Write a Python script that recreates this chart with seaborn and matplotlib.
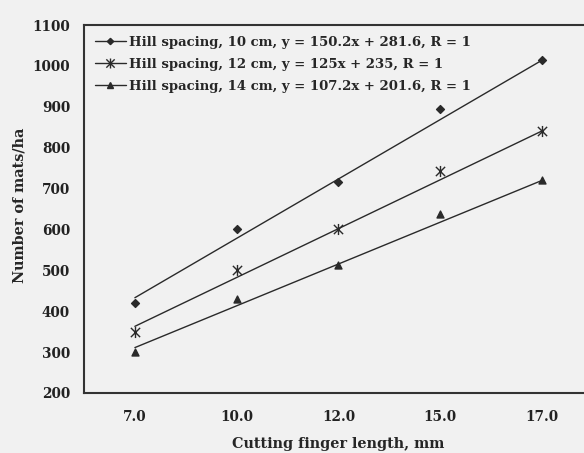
import numpy as np
import pandas as pd
import matplotlib
matplotlib.use("Agg")
import matplotlib.pyplot as plt
from matplotlib.path import Path
from matplotlib.lines import Line2D
import seaborn as sns

# ---- data ----
finger_lengths = ["7.0", "10.0", "12.0", "15.0", "17.0"]
series_names = [
    "Hill spacing, 10 cm, y = 150.2x + 281.6, R = 1",
    "Hill spacing, 12 cm, y = 125x + 235, R = 1",
    "Hill spacing, 14 cm, y = 107.2x + 201.6, R = 1",
]
mats_10cm = [420, 600, 715, 895, 1015]
mats_12cm = [350, 500, 600, 742, 840]
mats_14cm = [300, 430, 512, 637, 720]
# trend lines as drawn in the figure (value at 7.0 and at 17.0)
trend_at_first = [433, 363, 311]
trend_at_last = [1014, 841, 720]
y_ticks = [200, 300, 400, 500, 600, 700, 800, 900, 1000, 1100]

sns.set_style("white")
plt.rcParams["font.family"] = ["DejaVu Serif"]
plt.rcParams["font.weight"] = "bold"

bg = "#f1f1f1"
fig = plt.figure(figsize=(5.84, 4.53), dpi=100, facecolor=bg)
ax = fig.add_axes([0.1438, 0.1325, 0.8716, 0.8123])
ax.set_facecolor(bg)

idx = np.arange(1, len(finger_lengths) + 1)
rows = []
for name, vals in zip(series_names, [mats_10cm, mats_12cm, mats_14cm]):
    for i, v in zip(idx, vals):
        rows.append({"x": i, "y": v, "series": name})
pts = pd.DataFrame(rows)

trows = []
for name, a, b in zip(series_names, trend_at_first, trend_at_last):
    trows.append({"x": idx[0], "y": a, "series": name})
    trows.append({"x": idx[-1], "y": b, "series": name})
trend = pd.DataFrame(trows)

asterisk = Path([(-1, -1), (1, 1), (-1, 1), (1, -1), (0, -1.2), (0, 1.2)],
                [Path.MOVETO, Path.LINETO, Path.MOVETO, Path.LINETO, Path.MOVETO, Path.LINETO])
markers = {series_names[0]: "D", series_names[1]: asterisk, series_names[2]: "^"}
msizes = {series_names[0]: 4, series_names[1]: 8, series_names[2]: 5}

lc = "#2a2a2a"
sns.lineplot(data=trend, x="x", y="y", units="series", estimator=None,
             color=lc, linewidth=1.0, legend=False, ax=ax)
for name in series_names:
    sub = pts[pts["series"] == name]
    m = markers[name]
    sns.scatterplot(data=sub, x="x", y="y", marker=m, s=msizes[name] ** 2,
                    color=lc, edgecolor=lc if m != asterisk else None,
                    linewidth=1.0, legend=False, ax=ax)

ax.set_xlim(0.5, len(finger_lengths) + 0.5)
ax.set_ylim(200, 1100)
ax.set_yticks(y_ticks)
ax.set_yticklabels([str(t) for t in y_ticks], fontsize=9.8, fontweight="bold")
ax.set_xticks(idx)
ax.set_xticklabels(finger_lengths, fontsize=9.8, fontweight="bold")
ax.set_xticks(idx[:-1] + 0.5, minor=True)
ax.tick_params(axis="y", length=0, pad=10, colors="#222222")
ax.tick_params(axis="x", which="both", direction="inout", length=5, width=1,
               pad=10, colors="#222222")

ax.set_xlabel("Cutting finger length, mm", fontsize=10.4, fontweight="bold", labelpad=9)
ax.set_ylabel("Number of mats/ha", fontsize=10.4, fontweight="bold", labelpad=5)
ax.yaxis.set_label_coords(-0.113, 0.51)

for s in ["left", "top", "bottom"]:
    ax.spines[s].set_visible(True)
    ax.spines[s].set_color("#333333")
    ax.spines[s].set_linewidth(1.5)
ax.spines["right"].set_visible(False)

handles = [Line2D([0], [0], color=lc, lw=1.0, marker=markers[n],
                  markersize=msizes[n] * (0.8 if n != series_names[1] else 0.9),
                  markerfacecolor=lc, markeredgecolor=lc) for n in series_names]
leg = ax.legend(handles, series_names, loc="upper left", frameon=False,
                prop={"size": 9.5, "weight": "bold"}, handlelength=2.4,
                handletextpad=0.2, labelspacing=0.68, borderaxespad=0.4,
                bbox_to_anchor=(0.0, 1.0))

fig.savefig("out.png", dpi=100, facecolor=bg)
